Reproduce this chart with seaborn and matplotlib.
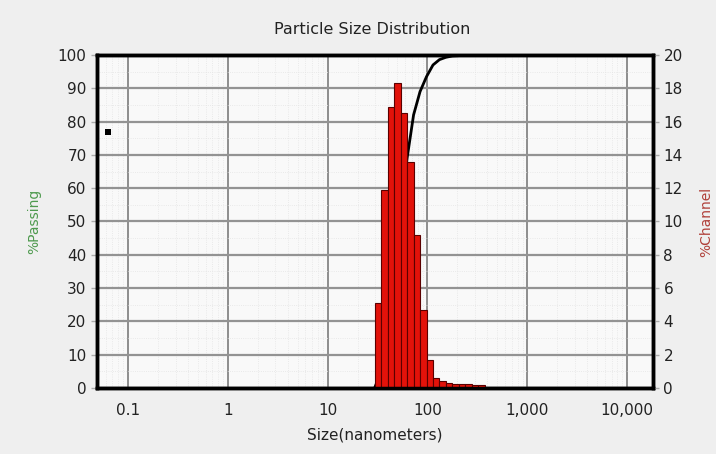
# Particle size distribution (Microtrac style) - %Passing curve + %Channel bars
import numpy as np
import pandas as pd
import matplotlib
matplotlib.use('Agg')
import matplotlib.pyplot as plt
import matplotlib.ticker as mticker
import seaborn as sns

sns.set_style('white')
plt.rcParams['font.family'] = ['DejaVu Sans']

# channel edges (nm) and %channel
edges = [29.6, 34.4, 39.9, 46.4, 53.9, 62.6, 72.7, 84.4, 98.0, 113.8, 132.2,
         153.5, 178.3, 207.0, 240.0, 279.0, 324.0, 376.0]
channel = [5.1, 11.9, 16.9, 18.3, 16.5, 13.6, 9.2, 4.7, 1.7, 0.6,
           0.4, 0.3, 0.25, 0.25, 0.25, 0.2, 0.15]

# cumulative %passing curve
pass_size = [29.6, 34.4, 39.9, 46.4, 53.9, 62.6, 72.7, 84.4, 98.0, 113.8,
             132.0, 153.0, 178.0, 240.0, 400.0, 1000.0, 5700.0]
passing = [0, 5, 17, 34, 52, 69, 82, 89, 93.5, 97,
           98.6, 99.3, 99.7, 99.9, 100, 100, 100]

# odd single point at left
dot_x = [0.063]
dot_y = [77]

xticks = [0.1, 1, 10, 100, 1000, 10000]
xlabels = ['0.1', '1', '10', '100', '1,000', '10,000']

centers = [np.sqrt(a * b) for a, b in zip(edges[:-1], edges[1:])]
df = pd.DataFrame({'size': centers, 'channel': channel})
cum = pd.DataFrame({'size': pass_size, 'passing': passing})

fig = plt.figure(figsize=(7.16, 4.54), dpi=100)
fig.patch.set_facecolor('#efefef')
ax = fig.add_axes([0.1355, 0.1454, 0.7765, 0.7335])
ax.set_facecolor('#f9f9f9')
ax2 = ax.twinx()

# curve on the left axis (bars cover it)
sns.lineplot(data=cum, x='size', y='passing', color='black', lw=2, ax=ax, sort=False)
sns.scatterplot(x=dot_x, y=dot_y, marker='s', color='black', s=14, ax=ax, linewidth=0)
ax.set_xscale('log')

# bars on the right axis
log_edges = [float(v) for v in np.log10(edges)]
sns.histplot(data=df, x='size', weights='channel', bins=log_edges, log_scale=True,
             color='#e2120a', edgecolor='#5a0000', linewidth=0.8, alpha=1, ax=ax2)
ax2.set_ylim(0, 20)
ax2.set_yticks(range(0, 21, 2))
ax2.grid(False)

# axis setup after histplot (it resets the shared x axis)
ax.set_xlim(0.049, 18200)
ax.set_ylim(0, 100)
ax.set_yticks(range(0, 101, 10))
ax.yaxis.set_minor_locator(mticker.MultipleLocator(5))
ax.xaxis.set_major_locator(mticker.FixedLocator(xticks))
ax.xaxis.set_major_formatter(mticker.FixedFormatter(xlabels))
ax.xaxis.set_minor_locator(mticker.LogLocator(base=10, subs=np.arange(2, 10)))
ax.xaxis.set_minor_formatter(mticker.NullFormatter())
ax.grid(True, which='major', axis='y', color='#939393', lw=1.6)
ax.grid(True, which='major', axis='x', color='#7c7c7c', lw=1.2)
ax.grid(True, which='minor', color='#e4e4e4', lw=0.6, ls=':')
ax.set_axisbelow(True)

ax.set_xlabel('Size(nanometers)', fontsize=11, color='#222222', labelpad=7)
ax.set_ylabel('%Passing', fontsize=10, color='#4e9a4e', labelpad=12)
ax2.set_ylabel('%Channel', fontsize=10, color='#b0403a', labelpad=12)
ax2.set_xlabel('')
fig.text(0.52, 0.934, 'Particle Size Distribution', ha='center', va='center',
         fontsize=11.5, color='#222222')

for a in (ax, ax2):
    a.tick_params(axis='both', which='major', length=4, width=1, color='#aaaaaa',
                  labelsize=11, labelcolor='#222222', direction='out')
    a.tick_params(axis='both', which='minor', length=0)
    for s in a.spines.values():
        s.set_color('black')
        s.set_linewidth(2.5)
ax.tick_params(axis='x', pad=7)

fig.savefig('out.png', dpi=100, facecolor=fig.get_facecolor())
